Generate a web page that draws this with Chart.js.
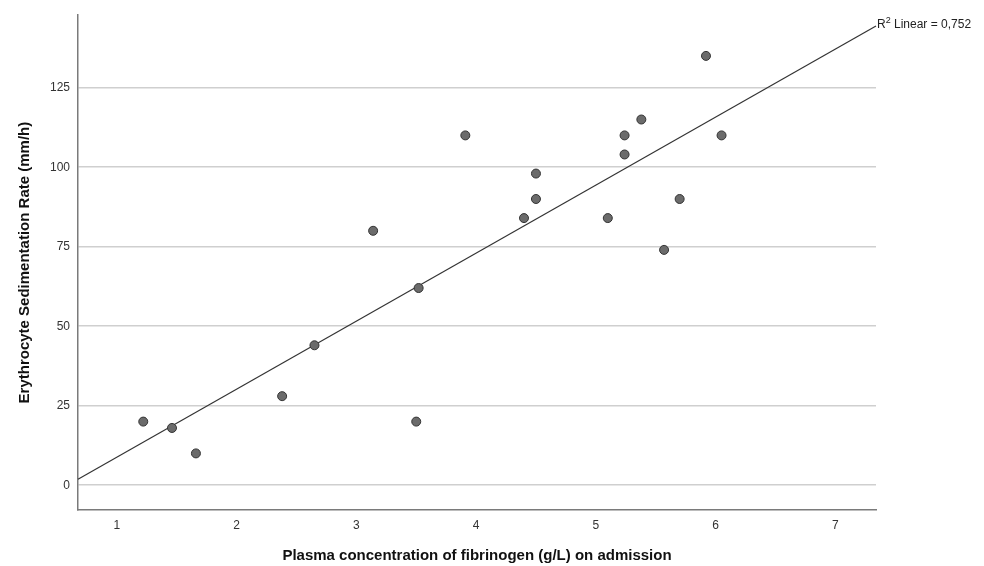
<!DOCTYPE html>
<html>
<head>
<meta charset="utf-8">
<script src="https://cdn.jsdelivr.net/npm/chart.js@4/dist/chart.umd.min.js"></script>
<style>
  html, body { margin: 0; padding: 0; background: #fff; }
  #wrap { width: 984px; height: 566px; }
</style>
</head>
<body>
<div id="wrap"><canvas id="myChart"></canvas></div>
<script>
    // fibrinogen (g/L) vs ESR (mm/h)
    const fibrinogen = [1.22, 1.46, 1.66, 2.38, 2.65, 3.14, 3.91, 4.50, 4.50, 4.40,
                        5.10, 5.24, 5.24, 5.38, 3.52, 3.50, 5.92, 6.05, 5.70, 5.57];
    const esr = [20, 18, 10, 28, 44, 80, 110, 98, 90, 84,
                 84, 110, 104, 115, 62, 20, 135, 110, 90, 74];

    // fit line ends
    const fitX = [0.675, 7.34];
    const fitY = [1.9, 144.4];
    const fitLabel = "Linear = 0,752";

    const xTicks = [1, 2, 3, 4, 5, 6, 7];
    const yTicks = [0, 25, 50, 75, 100, 125];

    const font = "'Liberation Sans', Arial, sans-serif";

    const r2Label = {
      id: "r2Label",
      afterDatasetsDraw(chart) {
        const ctx = chart.ctx;
        const x = chart.scales.x.getPixelForValue(fitX[1]) + 1;
        const y = chart.scales.y.getPixelForValue(fitY[1]) - 1;
        ctx.save();
        ctx.fillStyle = "#222";
        ctx.textBaseline = "middle";
        ctx.textAlign = "left";
        ctx.font = "12px " + font;
        ctx.fillText("R", x, y);
        const w = ctx.measureText("R").width;
        ctx.font = "9px " + font;
        ctx.fillText("2", x + w, y - 4);
        const w2 = ctx.measureText("2").width;
        ctx.font = "12px " + font;
        ctx.fillText(" " + fitLabel, x + w + w2, y);
        ctx.restore();
      }
    };

    new Chart("myChart", {
      type: "scatter",
      data: {
        datasets: [{
          data: fibrinogen.map((v, i) => ({ x: v, y: esr[i] })),
          pointRadius: 4.5,
          pointHoverRadius: 4.5,
          backgroundColor: "#6b6b6b",
          borderColor: "#333",
          borderWidth: 1
        }, {
          type: "line",
          data: fitX.map((v, i) => ({ x: v, y: fitY[i] })),
          borderColor: "#333",
          borderWidth: 1.2,
          pointRadius: 0,
          fill: false,
          clip: false
        }]
      },
      options: {
        responsive: true,
        maintainAspectRatio: false,
        animation: false,
        layout: { padding: { top: 12, right: 108, left: 0, bottom: 0 } },
        plugins: {
          legend: { display: false },
          tooltip: { enabled: false }
        },
        scales: {
          x: {
            type: "linear",
            min: 0.675,
            max: 7.34,
            afterBuildTicks: (s) => { s.ticks = xTicks.map(v => ({ value: v })); },
            afterFit: (s) => { s.height = 56; },
            grid: { display: false, drawTicks: false },
            border: { display: true, color: "#7a7a7a", width: 1.5 },
            ticks: { color: "#333", font: { family: font, size: 12 }, padding: 8 },
            title: {
              display: true,
              text: "Plasma concentration of fibrinogen (g/L) on admission",
              color: "#111",
              font: { family: font, size: 15, weight: "bold" },
              padding: { top: 0, bottom: 1 }
            }
          },
          y: {
            min: -7.8,
            max: 147.8,
            afterBuildTicks: (s) => { s.ticks = yTicks.map(v => ({ value: v })); },
            afterFit: (s) => { s.width = 78; },
            grid: { color: "#cfcfcf", lineWidth: 1.5, drawTicks: false },
            border: { display: true, color: "#7a7a7a", width: 1.5 },
            ticks: { color: "#333", font: { family: font, size: 12 }, padding: 8 },
            title: {
              display: true,
              text: "Erythrocyte Sedimentation Rate (mm/h)",
              color: "#111",
              font: { family: font, size: 15, weight: "bold" },
              padding: { top: 16, bottom: 0 }
            }
          }
        }
      },
      plugins: [r2Label]
    });
</script>
</body>
</html>
